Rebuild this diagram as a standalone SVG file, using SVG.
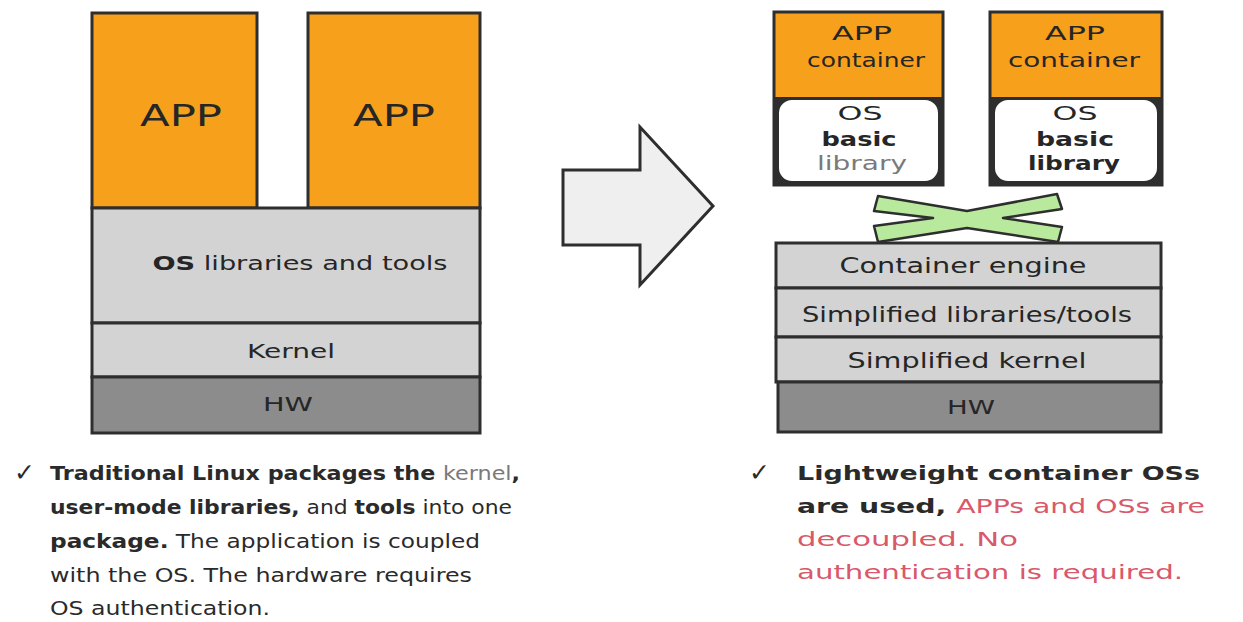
<svg xmlns="http://www.w3.org/2000/svg" width="1243" height="622" viewBox="0 0 1243 622">
  <style>
    .box { stroke: #2e2e2e; stroke-width: 3; }
    .app { fill: #f7a01c; }
    .layer { fill: #d3d3d3; }
    .hw { fill: #8c8c8c; }
    .lbl { font-family: "DejaVu Sans", "Liberation Sans", sans-serif; fill: #262626; text-anchor: middle; }
    .note { font-family: "DejaVu Sans", "Liberation Sans", sans-serif; font-size: 20px; fill: #2a2a2a; }
    .tick { font-family: "DejaVu Sans", sans-serif; font-size: 25px; fill: #2a2a2a; }
    .b { font-weight: bold; }
    .red { fill: #d9586a; }
    .grey { fill: #7a7a7a; }
  </style>
  <rect width="1243" height="622" fill="#ffffff"/>

  <!-- Traditional stack -->
  <g id="left-app-1">
    <rect class="box app" x="92" y="13" width="165" height="195"/>
    <text class="lbl" x="181" y="126" font-size="30" textLength="82" lengthAdjust="spacingAndGlyphs">APP</text>
  </g>
  <g id="left-app-2">
    <rect class="box app" x="308" y="13" width="172" height="195"/>
    <text class="lbl" x="394" y="126" font-size="30" textLength="82" lengthAdjust="spacingAndGlyphs">APP</text>
  </g>
  <g id="left-os-libs">
    <rect class="box layer" x="92" y="208" width="388" height="115"/>
    <text class="lbl" x="300" y="270" font-size="19" textLength="295" lengthAdjust="spacingAndGlyphs"><tspan class="b">OS</tspan> libraries and tools</text>
  </g>
  <g id="left-kernel">
    <rect class="box layer" x="92" y="323" width="388" height="54" fill="#d8d8d8"/>
    <text class="lbl" x="291" y="358" font-size="19" textLength="88" lengthAdjust="spacingAndGlyphs">Kernel</text>
  </g>
  <g id="left-hw">
    <rect class="box hw" x="92" y="377" width="388" height="56"/>
    <text class="lbl" x="288" y="411" font-size="19" textLength="50" lengthAdjust="spacingAndGlyphs">HW</text>
  </g>

  <!-- Transition arrow -->
  <g id="transition-arrow">
    <polygon points="563,170 640,170 640,127 713,206 640,285 640,245 563,245" fill="#efefef" stroke="#2e2e2e" stroke-width="3" stroke-linejoin="miter"/>
  </g>

  <!-- Container stack: app containers -->
  <g id="container-1">
    <rect class="box app" x="774" y="12" width="169" height="173"/>
    <rect x="774" y="97" width="169" height="88" fill="#2e2e2e"/>
    <rect x="778" y="99" width="161" height="83" rx="14" fill="#ffffff" stroke="#2e2e2e" stroke-width="2"/>
    <text class="lbl" x="862" y="40" font-size="20" textLength="60" lengthAdjust="spacingAndGlyphs">APP</text>
    <text class="lbl" x="866" y="67" font-size="20" textLength="118" lengthAdjust="spacingAndGlyphs">container</text>
    <text class="lbl" x="860" y="120" font-size="20" textLength="45" lengthAdjust="spacingAndGlyphs">OS</text>
    <text class="lbl b" x="859" y="146" font-size="20" textLength="75" lengthAdjust="spacingAndGlyphs">basic</text>
    <text class="lbl grey" x="862" y="170" font-size="20" textLength="90" lengthAdjust="spacingAndGlyphs">library</text>
  </g>
  <g id="container-2">
    <rect class="box app" x="990" y="12" width="172" height="173"/>
    <rect x="990" y="97" width="172" height="88" fill="#2e2e2e"/>
    <rect x="994" y="99" width="164" height="83" rx="14" fill="#ffffff" stroke="#2e2e2e" stroke-width="2"/>
    <text class="lbl" x="1075" y="40" font-size="20" textLength="60" lengthAdjust="spacingAndGlyphs">APP</text>
    <text class="lbl" x="1074" y="67" font-size="20" textLength="132" lengthAdjust="spacingAndGlyphs">container</text>
    <text class="lbl" x="1075" y="120" font-size="20" textLength="45" lengthAdjust="spacingAndGlyphs">OS</text>
    <text class="lbl b" x="1075" y="146" font-size="20" textLength="78" lengthAdjust="spacingAndGlyphs">basic</text>
    <text class="lbl b" x="1074" y="170" font-size="20" textLength="92" lengthAdjust="spacingAndGlyphs">library</text>
  </g>

  <!-- Decoupling cross -->
  <g id="decouple-cross">
    <polygon points="878,196 874,211 933,218 874,226 878,242 967,228 1058,242 1062,227 1003,218 1062,209 1057,194 967,211" fill="#b8e99c" stroke="#2e2e2e" stroke-width="2.5" stroke-linejoin="round"/>
  </g>

  <!-- Container stack: host layers -->
  <g id="container-engine">
    <rect class="box layer" x="776" y="243" width="385" height="45"/>
    <text class="lbl" x="963" y="273" font-size="21" textLength="247" lengthAdjust="spacingAndGlyphs">Container engine</text>
  </g>
  <g id="simplified-libs">
    <rect class="box layer" x="776" y="288" width="385" height="49"/>
    <text class="lbl" x="967" y="322" font-size="21" textLength="330" lengthAdjust="spacingAndGlyphs">Simplified libraries/tools</text>
  </g>
  <g id="simplified-kernel">
    <rect class="box layer" x="776" y="337" width="385" height="45"/>
    <text class="lbl" x="967" y="368" font-size="21" textLength="239" lengthAdjust="spacingAndGlyphs">Simplified kernel</text>
  </g>
  <g id="right-hw">
    <rect class="box hw" x="778" y="382" width="383" height="50"/>
    <text class="lbl" x="971" y="414" font-size="19" textLength="48" lengthAdjust="spacingAndGlyphs">HW</text>
  </g>

  <!-- Notes -->
  <g id="left-note">
    <text class="tick" x="14" y="481">✓</text>
    <text class="note" x="50" y="480" textLength="470" lengthAdjust="spacingAndGlyphs"><tspan class="b">Traditional Linux packages the </tspan><tspan class="grey">kernel</tspan><tspan class="b">,</tspan></text>
    <text class="note" x="50" y="514" textLength="462" lengthAdjust="spacingAndGlyphs"><tspan class="b">user-mode libraries,</tspan> and <tspan class="b">tools</tspan> into one</text>
    <text class="note" x="50" y="548" textLength="430" lengthAdjust="spacingAndGlyphs"><tspan class="b">package.</tspan> The application is coupled</text>
    <text class="note" x="50" y="582" textLength="422" lengthAdjust="spacingAndGlyphs">with the OS. The hardware requires</text>
    <text class="note" x="50" y="615" textLength="220" lengthAdjust="spacingAndGlyphs">OS authentication.</text>
  </g>
  <g id="right-note">
    <text class="tick" x="749" y="481">✓</text>
    <text class="note b" x="797" y="480" textLength="403" lengthAdjust="spacingAndGlyphs">Lightweight container OSs</text>
    <text class="note" x="797" y="513" textLength="408" lengthAdjust="spacingAndGlyphs"><tspan class="b">are used, </tspan><tspan class="red">APPs and OSs are</tspan></text>
    <text class="note red" x="797" y="546" textLength="221" lengthAdjust="spacingAndGlyphs">decoupled. No</text>
    <text class="note red" x="797" y="579" textLength="386" lengthAdjust="spacingAndGlyphs">authentication is required.</text>
  </g>
</svg>
